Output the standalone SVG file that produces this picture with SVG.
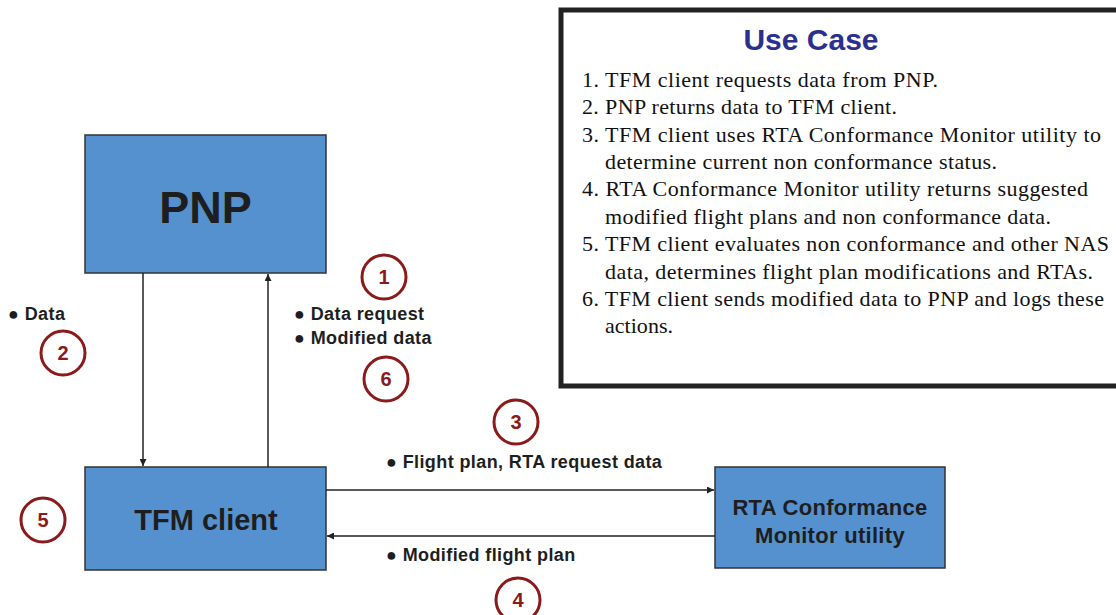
<svg xmlns="http://www.w3.org/2000/svg" width="1116" height="615" viewBox="0 0 1116 615">
<style>
.box{fill:#5591CF;stroke:#333;stroke-width:1.5}
.lbl{font-family:"Liberation Sans",Arial,sans-serif;font-weight:bold;fill:#1e1e1e}
.sm{font-size:18px;letter-spacing:0.4px}
.num{fill:none;stroke:#8B1A1A;stroke-width:3}
.numt{font-family:"Liberation Sans",Arial,sans-serif;font-weight:bold;font-size:20px;fill:#8B1A1A;text-anchor:middle}
.con{stroke:#222;stroke-width:1.5;fill:none}
.uc{font-family:"Liberation Serif","Times New Roman",serif;font-size:22px;fill:#111}
</style>
<defs>
<marker id="ah" viewBox="0 0 10 10" refX="10" refY="5" markerWidth="7" markerHeight="7" orient="auto" markerUnits="userSpaceOnUse">
<path d="M0,0 L10,5 L0,10 z" fill="#222"/>
</marker>
</defs>
<rect width="1116" height="615" fill="#fff"/>
<g id="pnp">
<rect class="box" x="85" y="135" width="241" height="138"/>
<text class="lbl" x="205.5" y="223" font-size="45" text-anchor="middle">PNP</text>
</g>
<g id="tfm">
<rect class="box" x="85" y="467" width="241" height="103"/>
<text class="lbl" x="206" y="530" font-size="29" text-anchor="middle">TFM client</text>
</g>
<g id="rta">
<rect class="box" x="715" y="467" width="230" height="101"/>
<text class="lbl" x="830" y="515" font-size="22" letter-spacing="0.3" text-anchor="middle">RTA Conformance</text>
<text class="lbl" x="830" y="543" font-size="22" letter-spacing="0.3" text-anchor="middle">Monitor utility</text>
</g>
<g id="connectors">
<line class="con" x1="143" y1="273" x2="143" y2="466" marker-end="url(#ah)"/>
<line class="con" x1="268" y1="467" x2="268" y2="274" marker-end="url(#ah)"/>
<line class="con" x1="326" y1="490" x2="714" y2="490" marker-end="url(#ah)"/>
<line class="con" x1="715" y1="536" x2="327" y2="536" marker-end="url(#ah)"/>
</g>
<g id="labels">
<text class="lbl sm" x="8" y="320">● Data</text>
<text class="lbl sm" x="294" y="320">● Data request</text>
<text class="lbl sm" x="294" y="344">● Modified data</text>
<text class="lbl sm" x="386" y="468">● Flight plan, RTA request data</text>
<text class="lbl sm" x="386" y="561">● Modified flight plan</text>
</g>
<g id="steps">
<circle class="num" cx="384" cy="277" r="22"/><text class="numt" x="384" y="284">1</text>
<circle class="num" cx="63" cy="353" r="22"/><text class="numt" x="63" y="360">2</text>
<circle class="num" cx="516" cy="422" r="22"/><text class="numt" x="516" y="429">3</text>
<circle class="num" cx="518" cy="600" r="22"/><text class="numt" x="518" y="607">4</text>
<circle class="num" cx="43" cy="520" r="22"/><text class="numt" x="43" y="527">5</text>
<circle class="num" cx="386" cy="379" r="22"/><text class="numt" x="386" y="386">6</text>
</g>
<g id="usecase">
<rect x="561" y="10" width="565" height="376" fill="#fff" stroke="#222" stroke-width="5"/>
<text x="811" y="50" font-family="Liberation Sans,Arial,sans-serif" font-weight="bold" font-size="30" fill="#2B2F8E" text-anchor="middle">Use Case</text>
<text class="uc" x="582" y="87" textLength="356" lengthAdjust="spacing">1. TFM client requests data from PNP.</text>
<text class="uc" x="582" y="114" textLength="315" lengthAdjust="spacing">2. PNP returns data to TFM client.</text>
<text class="uc" x="582" y="142" textLength="519" lengthAdjust="spacing">3. TFM client uses RTA Conformance Monitor utility to</text>
<text class="uc" x="605" y="169" textLength="392" lengthAdjust="spacing">determine current non conformance status.</text>
<text class="uc" x="582" y="196" textLength="506" lengthAdjust="spacing">4. RTA Conformance Monitor utility returns suggested</text>
<text class="uc" x="605" y="224" textLength="446" lengthAdjust="spacing">modified flight plans and non conformance data.</text>
<text class="uc" x="582" y="251" textLength="527" lengthAdjust="spacing">5. TFM client evaluates non conformance and other NAS</text>
<text class="uc" x="605" y="279" textLength="488" lengthAdjust="spacing">data, determines flight plan modifications and RTAs.</text>
<text class="uc" x="582" y="306" textLength="522" lengthAdjust="spacing">6. TFM client sends modified data to PNP and logs these</text>
<text class="uc" x="605" y="333" textLength="68" lengthAdjust="spacing">actions.</text>
</g>
</svg>
